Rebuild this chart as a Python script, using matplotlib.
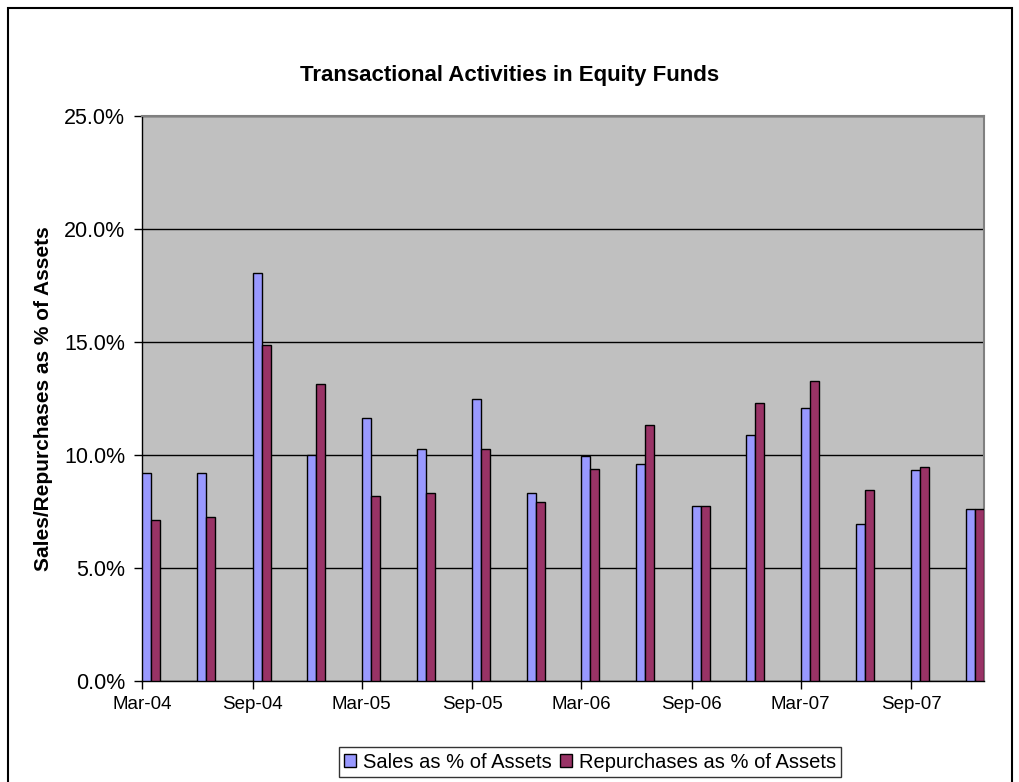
import matplotlib
matplotlib.use("Agg")
import matplotlib.pyplot as plt
import matplotlib.dates as mdates
from matplotlib.patches import Rectangle
import datetime as dt

plt.rcParams['font.family'] = ['Liberation Sans', 'DejaVu Sans']

quarters = ["2004-03", "2004-06", "2004-09", "2004-12",
            "2005-03", "2005-06", "2005-09", "2005-12",
            "2006-03", "2006-06", "2006-09", "2006-12",
            "2007-03", "2007-06", "2007-09", "2007-12"]
sales = [9.2, 9.2, 18.05, 10.0, 11.65, 10.27, 12.48, 8.34,
         9.94, 9.6, 7.73, 10.88, 12.07, 6.93, 9.33, 7.61]
repurchases = [7.12, 7.25, 14.87, 13.14, 8.19, 8.34, 10.27, 7.94,
               9.39, 11.34, 7.73, 12.3, 13.26, 8.46, 9.47, 7.61]
yticks = [0, 5, 10, 15, 20, 25]

title = "Transactional Activities in Equity Funds"
ylabel = "Sales/Repurchases as % of Assets"
series_names = ["Sales as % of Assets", "Repurchases as % of Assets"]

dates = [dt.datetime.strptime(q + "-01", "%Y-%m-%d") for q in quarters]
x = mdates.date2num(dates)
w = 15  # days

fig = plt.figure(figsize=(10.2, 7.82), dpi=100)
ax = fig.add_axes([142/1020, 1 - 681/782, (984-142)/1020, (681-116)/782])
ax.set_facecolor('#C0C0C0')

b1 = ax.bar(x, sales, width=w, align='edge', color='#9999FF',
            edgecolor='black', linewidth=1.0, zorder=3)
b2 = ax.bar(x + w, repurchases, width=w, align='edge', color='#993366',
            edgecolor='black', linewidth=1.0, zorder=3)

ax.set_xlim(mdates.date2num(dt.datetime(2004, 3, 1)),
            mdates.date2num(dt.datetime(2007, 12, 31)))
ax.set_ylim(0, 25)
ax.set_yticks(yticks)
ax.set_yticklabels([f"{v:.1f}%" for v in yticks], fontsize=15.5)
ax.yaxis.grid(True, color='black', linewidth=1.0, zorder=1)
ax.set_axisbelow(True)

ax.xaxis.set_major_locator(mdates.MonthLocator(bymonth=[3, 9]))
ax.xaxis.set_major_formatter(mdates.DateFormatter('%b-%y'))
for lab in ax.get_xticklabels():
    lab.set_fontsize(13.5)

ax.tick_params(axis='y', direction='out', length=6, width=1, color='black', pad=6)
ax.tick_params(axis='x', direction='out', length=6, width=1, color='black', pad=5)
for side in ['left', 'bottom']:
    ax.spines[side].set_color('black')
    ax.spines[side].set_linewidth(1)
for side in ['top', 'right']:
    ax.spines[side].set_color('#808080')
    ax.spines[side].set_linewidth(1.5)

ax.set_ylabel(ylabel, fontsize=15, fontweight='bold', labelpad=8)
fig.text(0.5, 1 - 76/782, title, ha='center', va='center', fontsize=16, fontweight='bold')

leg = fig.legend([b1, b2], series_names, loc='center', bbox_to_anchor=(590/1020, 1 - 762/782),
                 ncol=2, fontsize=14.5, frameon=True, fancybox=False, edgecolor='black',
                 handlelength=0.6, handleheight=0.6, handletextpad=0.35, columnspacing=0.4,
                 borderpad=0.25)
leg.get_frame().set_linewidth(1.0)

fig.patches.append(Rectangle((8/1020, -0.01), (1012-8)/1020, 1 - 8/782 + 0.01,
                             transform=fig.transFigure, fill=False, edgecolor='black',
                             linewidth=1.5))

fig.savefig('out.png', dpi=100)
